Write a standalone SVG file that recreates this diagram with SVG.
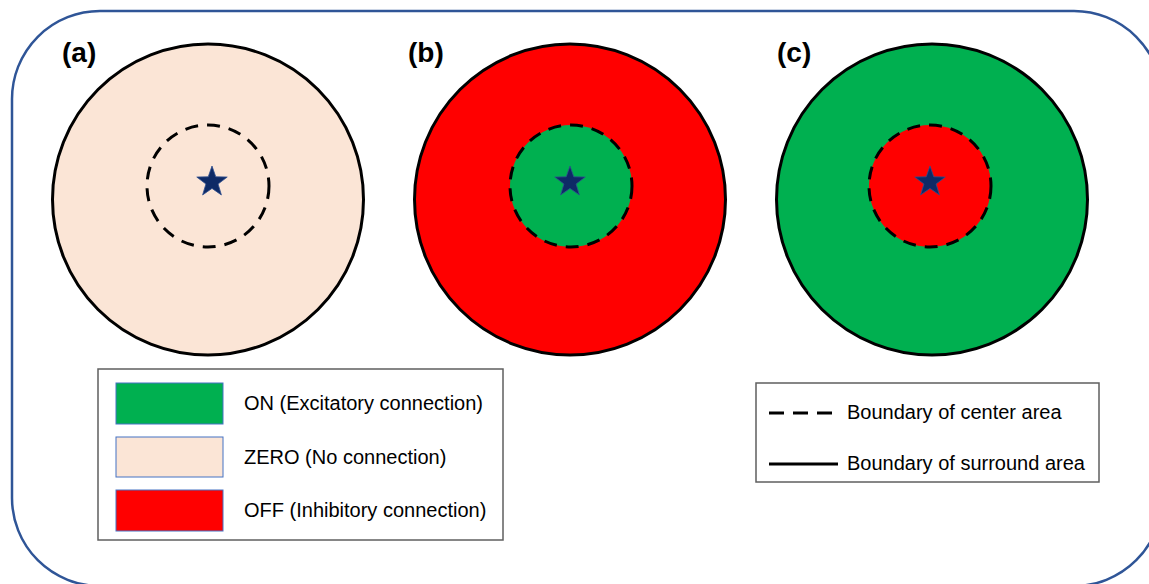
<svg xmlns="http://www.w3.org/2000/svg" width="1149" height="584" viewBox="0 0 1149 584">
<defs>
<style>
.frame{fill:#FFFFFF;stroke:#2F5597;stroke-width:2.5}
.outer{stroke:#000;stroke-width:3}
.inner{stroke:#000;stroke-width:3;stroke-dasharray:13 9}
.star{fill:#0E2A66;stroke:#2F4F8F;stroke-width:0.8}
.lab{font-family:"Liberation Sans",Arial,sans-serif;font-weight:bold;font-size:28px;fill:#000}
.leg{font-family:"Liberation Sans",Arial,sans-serif;font-size:20px;fill:#000}
.legbox{fill:#FFFFFF;stroke:#5F5F5F;stroke-width:1.5}
.sw{stroke:#4472C4;stroke-width:1}
.peach{fill:#FBE5D6}
.red{fill:#FF0000}
.green{fill:#00B050}
</style>
<polygon id="starshape" points="0,-16 3.76,-5.18 15.22,-4.94 6.09,1.98 9.4,12.94 0,6.4 -9.4,12.94 -6.09,1.98 -15.22,-4.94 -3.76,-5.18"/>
</defs>
<rect class="frame" x="12" y="11" width="1150" height="575" rx="88" ry="88"/>
<g id="panel-a">
<circle class="outer peach" cx="208" cy="199.5" r="155.5"/>
<circle class="inner" cx="208" cy="186" r="61" fill="none"/>
<use href="#starshape" class="star" x="212" y="182"/>
<text class="lab" x="62" y="62">(a)</text>
</g>
<g id="panel-b">
<circle class="outer red" cx="570" cy="199.5" r="155.5"/>
<circle class="inner green" cx="571" cy="186" r="61"/>
<use href="#starshape" class="star" x="570" y="182"/>
<text class="lab" x="408" y="62">(b)</text>
</g>
<g id="panel-c">
<circle class="outer green" cx="932" cy="199.5" r="155.5"/>
<circle class="inner red" cx="930" cy="186" r="61"/>
<use href="#starshape" class="star" x="930" y="182"/>
<text class="lab" x="777" y="62">(c)</text>
</g>
<g id="legend-colors">
<rect class="legbox" x="98" y="369" width="405" height="171"/>
<rect class="sw green" x="116" y="383" width="107" height="41"/>
<rect class="sw peach" x="116" y="437" width="107" height="40"/>
<rect class="sw red" x="116" y="490" width="107" height="41"/>
<text class="leg" x="244" y="410">ON (Excitatory connection)</text>
<text class="leg" x="244" y="464">ZERO (No connection)</text>
<text class="leg" x="244" y="517">OFF (Inhibitory connection)</text>
</g>
<g id="legend-lines">
<rect class="legbox" x="756" y="383" width="343" height="99"/>
<line x1="769" y1="413" x2="834" y2="413" stroke="#000" stroke-width="3" stroke-dasharray="15 9"/>
<line x1="769" y1="464" x2="838" y2="464" stroke="#000" stroke-width="3"/>
<text class="leg" x="847" y="419">Boundary of center area</text>
<text class="leg" x="847" y="470">Boundary of surround area</text>
</g>
<g id="connectors"></g>
</svg>
